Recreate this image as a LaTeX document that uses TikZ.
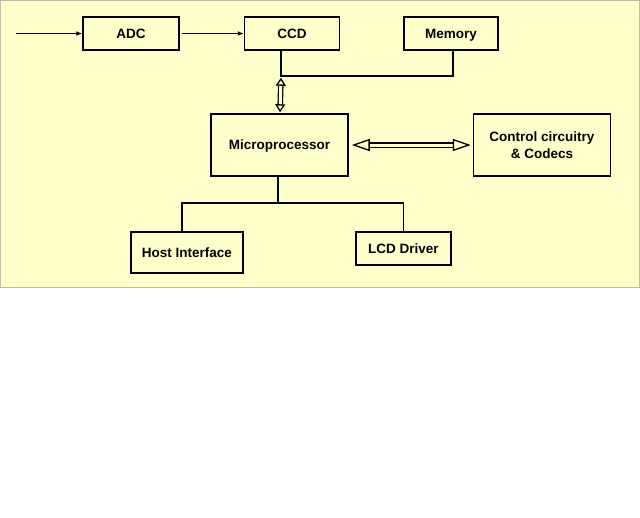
\documentclass[tikz,border=0pt]{standalone}
\usepackage{fontspec}
\setmainfont{Liberation Sans}
\usepackage{xcolor}
\usetikzlibrary{positioning, arrows.meta, calc}
\definecolor{slidebg}{RGB}{255,255,204}
\definecolor{slideframe}{RGB}{190,190,170}

\begin{document}
\begin{tikzpicture}[
        x=1pt, y=-1pt,
        node distance=64pt and 64pt,
        box/.style={draw, rectangle, line width=1.5pt, inner sep=0pt, align=center, fill=slidebg, font=\fontsize{13.5}{17}\selectfont\bfseries},
        onebox/.style={box, text height=9.5pt, text depth=0pt},
        arr/.style={-{Latex[length=6pt, width=5pt]}, line width=1.6pt},
        bus/.style={line width=1.3pt, double=slidebg, double distance=3pt},
        wire/.style={line width=1.6pt}
    ]

    % page and slide area
    \useasboundingbox (0,0) rectangle (640,517);
    \fill[white] (0,0) rectangle (640,517);
    \draw[fill=slidebg, draw=slideframe, line width=1pt] (0.5,0.5) rectangle (639.5,287.5);

    \node[onebox, minimum width=96pt, minimum height=33pt] (adc) at (131,33.5) {ADC};
    \node[onebox, minimum width=95pt, minimum height=33pt] (ccd) [right=64pt of adc] {CCD};
    \node[onebox, minimum width=94pt, minimum height=33pt] (mem) [right=63pt of ccd] {Memory};
    \node[onebox, minimum width=137pt, minimum height=62pt] (micro) at (279.5,145) {Microprocessor};
    \node[box, minimum width=137pt, minimum height=62pt] (ctrl) [right=124pt of micro] {Control circuitry\\\& Codecs};
    \node[onebox, minimum width=112pt, minimum height=41pt] (host) at (187,252.5) {Host Interface};
    \node[onebox, minimum width=95pt, minimum height=33pt] (lcd) at (403.5,248.5) {LCD Driver};

    % Signal path
    \coordinate (input) at (16,33.5);
    \draw[arr] (input) -- (adc.west);
    \draw[arr] ([xshift=2pt]adc.east) -- (ccd.west);

    % Memory bus
    \draw[wire] ([xshift=-11pt]ccd.south) -- ++(0,25) coordinate (junc) -| ([xshift=2pt]mem.south);

    % Hollow double arrows
    \draw[bus, {Triangle[length=8pt, width=10pt, fill=slidebg]}-{Triangle[length=8pt, width=10pt, fill=slidebg]}] ([yshift=-2pt]junc) -- ([xshift=0.5pt, yshift=1pt]micro.north);
    \draw[bus, {Triangle[length=18pt, width=12pt, fill=slidebg]}-{Triangle[length=18pt, width=12pt, fill=slidebg]}] ([xshift=3pt]micro.east) -- ([xshift=-2pt]ctrl.west);

    % Peripheral branches
    \draw[wire] ([xshift=-1.5pt]micro.south) -- ++(0,26) coordinate (split);
    \draw[wire] ([xshift=-5pt]host.north) |- (split) -| (lcd.north);

\end{tikzpicture}
\end{document}
